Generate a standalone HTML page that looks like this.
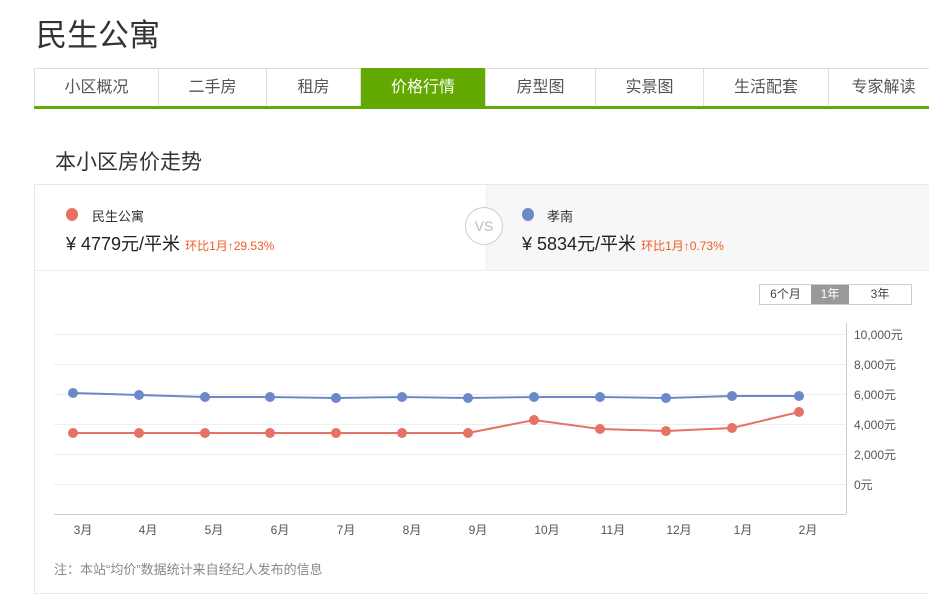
<!DOCTYPE html>
<html><head><meta charset="utf-8"><style>
body{margin:0;width:929px;height:586px;background:#fff;font-family:"Liberation Sans","Noto Sans CJK SC",sans-serif;position:relative;overflow:hidden;color:#333}
.a{position:absolute;white-space:nowrap}
.tab{position:absolute;top:69px;height:37px;line-height:38px;text-align:center;font-size:16px;color:#555;border-right:1px solid #ddd;box-sizing:border-box}
</style></head><body>
<div class="a" style="left:36px;top:10px;font-size:31px;color:#333">民生公寓</div>
<div class="a" style="left:34px;top:68px;width:895px;height:1px;background:#ddd"></div>
<div class="a" style="left:34px;top:68px;width:1px;height:39px;background:#ddd"></div>
<div class="tab" style="left:35px;width:124px">小区概况</div>
<div class="tab" style="left:159px;width:108px">二手房</div>
<div class="tab" style="left:267px;width:94px">租房</div>
<div class="tab" style="left:361px;width:125px;background:#62a900;color:#fff;top:68px;height:39px;line-height:40px">价格行情</div>
<div class="tab" style="left:486px;width:110px">房型图</div>
<div class="tab" style="left:596px;width:108px">实景图</div>
<div class="tab" style="left:704px;width:125px">生活配套</div>
<div class="tab" style="left:829px;width:110px">专家解读</div>
<div class="a" style="left:34px;top:106px;width:895px;height:3px;background:#62a900"></div>
<div class="a" style="left:55px;top:146px;font-size:21px;color:#333">本小区房价走势</div>
<div class="a" style="left:34px;top:184px;width:900px;height:410px;border:1px solid #e8e8e8;box-sizing:border-box"></div>
<div class="a" style="left:486px;top:185px;width:450px;height:85px;background:#f7f7f7;border-left:1px solid #eee"></div>
<div class="a" style="left:35px;top:270px;width:900px;height:1px;background:#eee"></div>
<div class="a" style="left:465px;top:207px;width:36px;height:36px;border:1px solid #ccc;border-radius:50%;background:#fff;text-align:center;line-height:36px;font-size:14px;color:#bbb">VS</div>
<div class="a" style="left:66px;top:208px;width:12px;height:13px;border-radius:50%;background:#e57265"></div>
<div class="a" style="left:92px;top:206px;font-size:13px;color:#333">民生公寓</div>
<div class="a" style="left:66px;top:230px;font-size:18px;color:#222">¥ 4779元/平米 <span style="font-size:12px;color:#f05a24">环比1月↑29.53%</span></div>
<div class="a" style="left:522px;top:208px;width:12px;height:13px;border-radius:50%;background:#6b88c9"></div>
<div class="a" style="left:547px;top:206px;font-size:13px;color:#333">孝南</div>
<div class="a" style="left:522px;top:230px;font-size:18px;color:#222">¥ 5834元/平米 <span style="font-size:12px;color:#f05a24">环比1月↑0.73%</span></div>
<div class="a" style="left:759px;top:284px;width:153px;height:21px;border:1px solid #ccc;box-sizing:border-box;font-size:12px;line-height:19px;color:#444">
<span style="position:absolute;left:0;width:51px;text-align:center">6个月</span>
<span style="position:absolute;left:51px;width:38px;text-align:center;background:#999;color:#fff;height:19px">1年</span>
<span style="position:absolute;left:89px;width:62px;text-align:center">3年</span></div>
<svg class="a" style="left:0;top:0" width="929" height="586">
<g stroke="#eee" stroke-width="1">
<line x1="54" x2="846" y1="334.5" y2="334.5"/><line x1="54" x2="846" y1="364.5" y2="364.5"/><line x1="54" x2="846" y1="394.5" y2="394.5"/><line x1="54" x2="846" y1="424.5" y2="424.5"/><line x1="54" x2="846" y1="454.5" y2="454.5"/><line x1="54" x2="846" y1="484.5" y2="484.5"/></g>
<line x1="54" x2="846" y1="514.5" y2="514.5" stroke="#ccc"/>
<line x1="846.5" x2="846.5" y1="323" y2="514" stroke="#ccc"/>
<g font-size="12" fill="#555">
<text x="854" y="339">10,000元</text><text x="854" y="369">8,000元</text><text x="854" y="399">6,000元</text><text x="854" y="429">4,000元</text><text x="854" y="459">2,000元</text><text x="854" y="489">0元</text></g>
<g font-size="12" fill="#555" text-anchor="middle">
<text x="83" y="534">3月</text><text x="148" y="534">4月</text><text x="214" y="534">5月</text><text x="280" y="534">6月</text><text x="346" y="534">7月</text><text x="412" y="534">8月</text><text x="478" y="534">9月</text><text x="547" y="534">10月</text><text x="613" y="534">11月</text><text x="679" y="534">12月</text><text x="743" y="534">1月</text><text x="808" y="534">2月</text></g>
<polyline fill="none" stroke="#6b88c9" stroke-width="2" points="73,393 139,395 205,397 270,397 336,398 402,397 468,398 534,397 600,397 666,398 732,396 799,396"/>
<polyline fill="none" stroke="#e57265" stroke-width="2" points="73,433 139,433 205,433 270,433 336,433 402,433 468,433 534,420 600,429 666,431 732,428 799,412"/>
<g fill="#6b88c9"><circle cx="73" cy="393" r="5"/><circle cx="139" cy="395" r="5"/><circle cx="205" cy="397" r="5"/><circle cx="270" cy="397" r="5"/><circle cx="336" cy="398" r="5"/><circle cx="402" cy="397" r="5"/><circle cx="468" cy="398" r="5"/><circle cx="534" cy="397" r="5"/><circle cx="600" cy="397" r="5"/><circle cx="666" cy="398" r="5"/><circle cx="732" cy="396" r="5"/><circle cx="799" cy="396" r="5"/></g>
<g fill="#e57265"><circle cx="73" cy="433" r="5"/><circle cx="139" cy="433" r="5"/><circle cx="205" cy="433" r="5"/><circle cx="270" cy="433" r="5"/><circle cx="336" cy="433" r="5"/><circle cx="402" cy="433" r="5"/><circle cx="468" cy="433" r="5"/><circle cx="534" cy="420" r="5"/><circle cx="600" cy="429" r="5"/><circle cx="666" cy="431" r="5"/><circle cx="732" cy="428" r="5"/><circle cx="799" cy="412" r="5"/></g>
</svg>
<div class="a" style="left:54px;top:559px;font-size:13px;color:#888">注：本站“均价”数据统计来自经纪人发布的信息</div>
</body></html>
